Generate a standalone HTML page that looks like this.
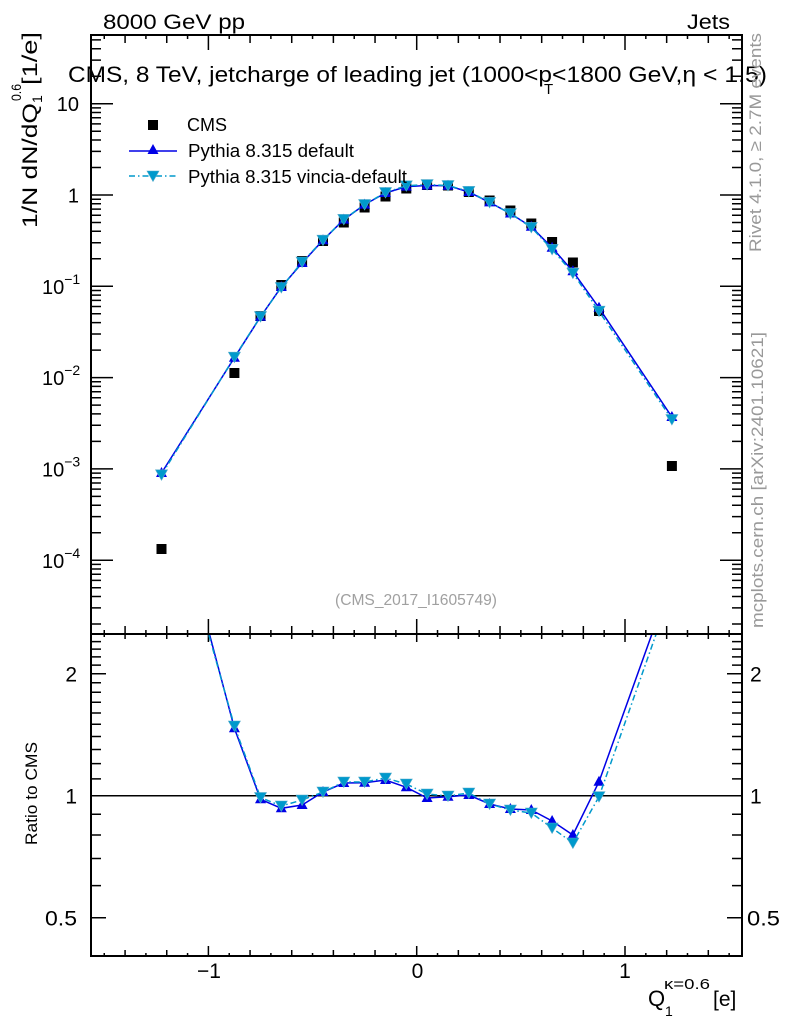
<!DOCTYPE html>
<html><head><meta charset="utf-8"><style>
html,body{margin:0;padding:0;background:#fff;}
svg{display:block;font-family:"Liberation Sans",Arial,sans-serif;}
</style></head><body>
<svg width="786" height="1024" viewBox="0 0 786 1024" xmlns="http://www.w3.org/2000/svg">
<defs>
<clipPath id="cTop"><rect x="92" y="36" width="649" height="597"/></clipPath>
<clipPath id="cRat"><rect x="92" y="635" width="649" height="320"/></clipPath>
<path id="sq" d="M-5 -5h10v10h-10z" fill="#000"/>
<path id="tu" d="M0 -6L5.5 4L-5.5 4Z" fill="#0000e6"/>
<path id="td" d="M-6 -5L6 -5L0 5.5Z" fill="#0099cc" stroke="#4fa9c9" stroke-width="0.6"/>
</defs>
<rect width="786" height="1024" fill="#fff"/>

<!-- header texts -->
<text x="103" y="29" font-size="21" textLength="142" lengthAdjust="spacingAndGlyphs">8000 GeV pp</text>
<text x="687" y="29" font-size="21" textLength="43" lengthAdjust="spacingAndGlyphs">Jets</text>

<!-- ticks top panel x -->
<g stroke="#000" stroke-width="1.5" fill="none">
<path d="M104.25 35v4M145.91 35v4M187.57 35v4M229.23 35v4M270.89 35v4M312.55 35v4M354.21 35v4M395.87 35v4M437.53 35v4M479.19 35v4M520.85 35v4M562.51 35v4M604.17 35v4M645.83 35v4M687.49 35v4M729.15 35v4"/>
<path d="M125.08 35v8M166.74 35v8M250.06 35v8M291.72 35v8M333.38 35v8M375.04 35v8M458.36 35v8M500.02 35v8M541.68 35v8M583.34 35v8M666.66 35v8M708.32 35v8"/>
<path d="M208.4 35v15M416.7 35v15M625 35v15"/>
<path d="M104.25 634v-4M145.91 634v-4M187.57 634v-4M229.23 634v-4M270.89 634v-4M312.55 634v-4M354.21 634v-4M395.87 634v-4M437.53 634v-4M479.19 634v-4M520.85 634v-4M562.51 634v-4M604.17 634v-4M645.83 634v-4M687.49 634v-4M729.15 634v-4"/>
<path d="M125.08 634v-8M166.74 634v-8M250.06 634v-8M291.72 634v-8M333.38 634v-8M375.04 634v-8M458.36 634v-8M500.02 634v-8M541.68 634v-8M583.34 634v-8M666.66 634v-8M708.32 634v-8"/>
<path d="M208.4 634v-15M416.7 634v-15M625 634v-15"/>
<!-- ratio panel x ticks -->
<path d="M104.25 634v3M145.91 634v3M187.57 634v3M229.23 634v3M270.89 634v3M312.55 634v3M354.21 634v3M395.87 634v3M437.53 634v3M479.19 634v3M520.85 634v3M562.51 634v3M604.17 634v3M645.83 634v3M687.49 634v3M729.15 634v3"/>
<path d="M125.08 634v5M166.74 634v5M250.06 634v5M291.72 634v5M333.38 634v5M375.04 634v5M458.36 634v5M500.02 634v5M541.68 634v5M583.34 634v5M666.66 634v5M708.32 634v5"/>
<path d="M208.4 634v8M416.7 634v8M625 634v8"/>
<path d="M104.25 956v-3M145.91 956v-3M187.57 956v-3M229.23 956v-3M270.89 956v-3M312.55 956v-3M354.21 956v-3M395.87 956v-3M437.53 956v-3M479.19 956v-3M520.85 956v-3M562.51 956v-3M604.17 956v-3M645.83 956v-3M687.49 956v-3M729.15 956v-3"/>
<path d="M125.08 956v-6M166.74 956v-6M250.06 956v-6M291.72 956v-6M333.38 956v-6M375.04 956v-6M458.36 956v-6M500.02 956v-6M541.68 956v-6M583.34 956v-6M666.66 956v-6M708.32 956v-6"/>
<path d="M208.4 956v-10M416.7 956v-10M625 956v-10"/>
<!-- top panel y ticks -->
<path d="M91 624h10M91 607.9h10M91 596.5h10M91 587.7h10M91 580.4h10M91 574.3h10M91 569h10M91 564.4h10M91 532.7h10M91 516.6h10M91 505.2h10M91 496.4h10M91 489.1h10M91 483h10M91 477.7h10M91 473.1h10M91 441.4h10M91 425.3h10M91 413.9h10M91 405.1h10M91 397.8h10M91 391.7h10M91 386.4h10M91 381.8h10M91 350.1h10M91 334h10M91 322.6h10M91 313.8h10M91 306.5h10M91 300.4h10M91 295.1h10M91 290.5h10M91 258.8h10M91 242.7h10M91 231.3h10M91 222.5h10M91 215.2h10M91 209.1h10M91 203.8h10M91 199.2h10M91 167.5h10M91 151.4h10M91 140h10M91 131.2h10M91 123.9h10M91 117.8h10M91 112.5h10M91 107.9h10M91 76.2h10M91 60.1h10M91 48.7h10M91 39.9h10"/>
<path d="M91 103.7h22M91 195h22M91 286.3h22M91 377.6h22M91 468.9h22M91 560.2h22"/>
<path d="M742 624h-10M742 607.9h-10M742 596.5h-10M742 587.7h-10M742 580.4h-10M742 574.3h-10M742 569h-10M742 564.4h-10M742 532.7h-10M742 516.6h-10M742 505.2h-10M742 496.4h-10M742 489.1h-10M742 483h-10M742 477.7h-10M742 473.1h-10M742 441.4h-10M742 425.3h-10M742 413.9h-10M742 405.1h-10M742 397.8h-10M742 391.7h-10M742 386.4h-10M742 381.8h-10M742 350.1h-10M742 334h-10M742 322.6h-10M742 313.8h-10M742 306.5h-10M742 300.4h-10M742 295.1h-10M742 290.5h-10M742 258.8h-10M742 242.7h-10M742 231.3h-10M742 222.5h-10M742 215.2h-10M742 209.1h-10M742 203.8h-10M742 199.2h-10M742 167.5h-10M742 151.4h-10M742 140h-10M742 131.2h-10M742 123.9h-10M742 117.8h-10M742 112.5h-10M742 107.9h-10M742 76.2h-10M742 60.1h-10M742 48.7h-10M742 39.9h-10"/>
<path d="M742 103.7h-22M742 195h-22M742 286.3h-22M742 377.6h-22M742 468.9h-22M742 560.2h-22"/>
<!-- ratio y ticks -->
<path d="M91 885.6h10M91 858.5h10M91 835h10M91 814.2h10M91 778.9h10M91 763.6h10M91 749.5h10M91 736.5h10M91 724.3h10M91 713h10M91 702.3h10M91 692.2h10M91 682.7h10M91 665.1h10M91 656.9h10M91 649.1h10M91 641.6h10"/>
<path d="M91 917.7h15M91 795.7h15M91 673.7h15"/>
<path d="M742 885.6h-10M742 858.5h-10M742 835h-10M742 814.2h-10M742 778.9h-10M742 763.6h-10M742 749.5h-10M742 736.5h-10M742 724.3h-10M742 713h-10M742 702.3h-10M742 692.2h-10M742 682.7h-10M742 665.1h-10M742 656.9h-10M742 649.1h-10M742 641.6h-10"/>
<path d="M742 917.7h-15M742 795.7h-15M742 673.7h-15"/>
</g>

<!-- ratio line at 1 -->
<line x1="91" y1="795.7" x2="742" y2="795.7" stroke="#000" stroke-width="1.5"/>

<!-- top panel data -->
<g clip-path="url(#cTop)">
<g>
<use href="#sq" x="161.5" y="549"/><use href="#sq" x="234.4" y="373"/><use href="#sq" x="260.5" y="316"/><use href="#sq" x="281.3" y="285"/><use href="#sq" x="302.1" y="261"/><use href="#sq" x="323" y="241"/><use href="#sq" x="343.8" y="222.5"/><use href="#sq" x="364.6" y="207.5"/><use href="#sq" x="385.5" y="196.5"/><use href="#sq" x="406.3" y="188.5"/><use href="#sq" x="427.1" y="185"/><use href="#sq" x="448" y="185.5"/><use href="#sq" x="468.8" y="192"/><use href="#sq" x="489.6" y="200.5"/><use href="#sq" x="510.4" y="210.5"/><use href="#sq" x="531.3" y="223.5"/><use href="#sq" x="552.1" y="242"/><use href="#sq" x="572.9" y="262.5"/><use href="#sq" x="599" y="311"/><use href="#sq" x="671.9" y="466"/>
</g>
<polyline fill="none" stroke="#0000e6" stroke-width="1.5" points="161.5,473 234.4,357.7 260.5,316.8 281.3,287 302.1,263 323,240.2 343.8,219.6 364.6,204.6 385.5,193 406.3,186.6 427.1,185.5 448,185.7 468.8,192 489.6,202.4 510.4,213.5 531.3,226.8 552.1,247.7 572.9,271.3 599,307.8 671.9,417"/>
<g>
<use href="#tu" x="161.5" y="473"/><use href="#tu" x="234.4" y="357.7"/><use href="#tu" x="260.5" y="316.8"/><use href="#tu" x="281.3" y="287"/><use href="#tu" x="302.1" y="263"/><use href="#tu" x="323" y="240.2"/><use href="#tu" x="343.8" y="219.6"/><use href="#tu" x="364.6" y="204.6"/><use href="#tu" x="385.5" y="193"/><use href="#tu" x="406.3" y="186.6"/><use href="#tu" x="427.1" y="185.5"/><use href="#tu" x="448" y="185.7"/><use href="#tu" x="468.8" y="192"/><use href="#tu" x="489.6" y="202.4"/><use href="#tu" x="510.4" y="213.5"/><use href="#tu" x="531.3" y="226.8"/><use href="#tu" x="552.1" y="247.7"/><use href="#tu" x="572.9" y="271.3"/><use href="#tu" x="599" y="307.8"/><use href="#tu" x="671.9" y="417"/>
</g>
<polyline fill="none" stroke="#0099cc" stroke-width="1.5" stroke-dasharray="6,3,1.5,3" points="161.5,474.8 234.4,357.2 260.5,316.6 281.3,287.5 302.1,262 323,240.2 343.8,219.4 364.6,204.5 385.5,192.5 406.3,185.8 427.1,184.6 448,185.5 468.8,191.4 489.6,202.4 510.4,213.6 531.3,227.4 552.1,249.4 572.9,273.2 599,311.2 671.9,419.5"/>
<g>
<use href="#td" x="161.5" y="474.8"/><use href="#td" x="234.4" y="357.2"/><use href="#td" x="260.5" y="316.6"/><use href="#td" x="281.3" y="287.5"/><use href="#td" x="302.1" y="262"/><use href="#td" x="323" y="240.2"/><use href="#td" x="343.8" y="219.4"/><use href="#td" x="364.6" y="204.5"/><use href="#td" x="385.5" y="192.5"/><use href="#td" x="406.3" y="185.8"/><use href="#td" x="427.1" y="184.6"/><use href="#td" x="448" y="185.5"/><use href="#td" x="468.8" y="191.4"/><use href="#td" x="489.6" y="202.4"/><use href="#td" x="510.4" y="213.6"/><use href="#td" x="531.3" y="227.4"/><use href="#td" x="552.1" y="249.4"/><use href="#td" x="572.9" y="273.2"/><use href="#td" x="599" y="311.2"/><use href="#td" x="671.9" y="419.5"/>
</g>
</g>

<!-- ratio panel data -->
<g clip-path="url(#cRat)">
<polyline fill="none" stroke="#0000e6" stroke-width="1.5" points="161.5,453 234.4,728.3 260.5,799.3 281.3,808.3 302.1,805 323,792 343.8,783 364.6,782.7 385.5,780 406.3,787.3 427.1,798 448,796.7 468.8,795 489.6,804 510.4,809 531.3,810 552.1,821 572.9,835 599,781.7 671.9,578.3"/>
<g>
<use href="#tu" x="234.4" y="728.3"/><use href="#tu" x="260.5" y="799.3"/><use href="#tu" x="281.3" y="808.3"/><use href="#tu" x="302.1" y="805"/><use href="#tu" x="323" y="792"/><use href="#tu" x="343.8" y="783"/><use href="#tu" x="364.6" y="782.7"/><use href="#tu" x="385.5" y="780"/><use href="#tu" x="406.3" y="787.3"/><use href="#tu" x="427.1" y="798"/><use href="#tu" x="448" y="796.7"/><use href="#tu" x="468.8" y="795"/><use href="#tu" x="489.6" y="804"/><use href="#tu" x="510.4" y="809"/><use href="#tu" x="531.3" y="810"/><use href="#tu" x="552.1" y="821"/><use href="#tu" x="572.9" y="835"/><use href="#tu" x="599" y="781.7"/>
</g>
<polyline fill="none" stroke="#0099cc" stroke-width="1.5" stroke-dasharray="6,3,1.5,3" points="161.5,466.2 234.4,726 260.5,797.5 281.3,806 302.1,800 323,792 343.8,782 364.6,782 385.5,778 406.3,784 427.1,794 448,796 468.8,793 489.6,804 510.4,810 531.3,813 552.1,828 572.9,843 599,796.7 671.9,589.2"/>
<g>
<use href="#td" x="234.4" y="726"/><use href="#td" x="260.5" y="797.5"/><use href="#td" x="281.3" y="806"/><use href="#td" x="302.1" y="800"/><use href="#td" x="323" y="792"/><use href="#td" x="343.8" y="782"/><use href="#td" x="364.6" y="782"/><use href="#td" x="385.5" y="778"/><use href="#td" x="406.3" y="784"/><use href="#td" x="427.1" y="794"/><use href="#td" x="448" y="796"/><use href="#td" x="468.8" y="793"/><use href="#td" x="489.6" y="804"/><use href="#td" x="510.4" y="810"/><use href="#td" x="531.3" y="813"/><use href="#td" x="552.1" y="828"/><use href="#td" x="572.9" y="843"/><use href="#td" x="599" y="796.7"/>
</g>
</g>

<!-- frames -->
<rect x="91" y="35" width="651" height="599" fill="none" stroke="#000" stroke-width="2"/>
<rect x="91" y="634" width="651" height="322" fill="none" stroke="#000" stroke-width="2"/>

<!-- title -->
<text x="68" y="82" font-size="22" textLength="484" lengthAdjust="spacingAndGlyphs">CMS, 8 TeV, jetcharge of leading jet (1000&lt;p</text>
<text x="544" y="94" font-size="15">T</text>
<text x="552" y="82" font-size="22" textLength="215" lengthAdjust="spacingAndGlyphs">&lt;1800 GeV,η &lt; 1.5)</text>

<!-- legend -->
<use href="#sq" x="153" y="125"/>
<text x="187" y="131" font-size="18.5" textLength="40" lengthAdjust="spacingAndGlyphs">CMS</text>
<line x1="129" y1="151" x2="177" y2="151" stroke="#0000e6" stroke-width="1.5"/>
<use href="#tu" x="153" y="150"/>
<text x="188" y="157" font-size="18.5" textLength="166" lengthAdjust="spacingAndGlyphs">Pythia 8.315 default</text>
<line x1="129" y1="176" x2="177" y2="176" stroke="#0099cc" stroke-width="1.5" stroke-dasharray="6,3,1.5,3"/>
<use href="#td" x="153" y="176"/>
<text x="188" y="183" font-size="18.5" textLength="219" lengthAdjust="spacingAndGlyphs">Pythia 8.315 vincia-default</text>

<!-- analysis label -->
<text x="335" y="605" font-size="16" fill="#a0a0a0" textLength="162" lengthAdjust="spacingAndGlyphs">(CMS_2017_I1605749)</text>

<!-- top y tick labels -->
<g font-size="20">
<text x="79" y="111" text-anchor="end">10</text>
<text x="79" y="202.5" text-anchor="end">1</text>
<text x="42" y="294">10<tspan dy="-10" font-size="14">−1</tspan></text>
<text x="42" y="385">10<tspan dy="-10" font-size="14">−2</tspan></text>
<text x="42" y="476.5">10<tspan dy="-10" font-size="14">−3</tspan></text>
<text x="42" y="568">10<tspan dy="-10" font-size="14">−4</tspan></text>
</g>

<!-- ratio tick labels -->
<g font-size="21">
<text x="77" y="681.5" text-anchor="end">2</text>
<text x="77" y="803.5" text-anchor="end">1</text>
<text x="77" y="925.5" text-anchor="end" textLength="32" lengthAdjust="spacingAndGlyphs">0.5</text>
<text x="750" y="681.5">2</text>
<text x="750" y="803.5">1</text>
<text x="747" y="925.5" textLength="33" lengthAdjust="spacingAndGlyphs">0.5</text>
</g>

<!-- x tick labels -->
<g font-size="21" text-anchor="middle">
<text x="209" y="978">−1</text>
<text x="417.5" y="978">0</text>
<text x="625" y="978">1</text>
</g>

<!-- x title -->
<text x="648" y="1006" font-size="22">Q</text>
<text x="664" y="989" font-size="15" textLength="46" lengthAdjust="spacingAndGlyphs">κ=0.6</text>
<text x="665" y="1016" font-size="14">1</text>
<text x="713" y="1006" font-size="21">[e]</text>

<!-- y title -->
<text transform="translate(37,228) rotate(-90)" font-size="21" textLength="125" lengthAdjust="spacingAndGlyphs">1/N dN/dQ</text>
<text transform="translate(42,103) rotate(-90)" font-size="14">1</text>
<text transform="translate(21,101) rotate(-90)" font-size="14" textLength="17" lengthAdjust="spacingAndGlyphs">0.6</text>
<text transform="translate(37,85) rotate(-90)" font-size="21" textLength="53" lengthAdjust="spacingAndGlyphs">[1/e]</text>

<!-- ratio y title -->
<text transform="translate(37,845) rotate(-90)" font-size="17" textLength="103" lengthAdjust="spacingAndGlyphs">Ratio to CMS</text>

<!-- right side gray texts -->
<text transform="translate(761,252) rotate(-90)" font-size="17" fill="#999" textLength="219" lengthAdjust="spacingAndGlyphs">Rivet 4.1.0, ≥ 2.7M events</text>
<text transform="translate(763,628) rotate(-90)" font-size="17" fill="#999" textLength="296" lengthAdjust="spacingAndGlyphs">mcplots.cern.ch [arXiv:2401.10621]</text>
</svg>
</body></html>
